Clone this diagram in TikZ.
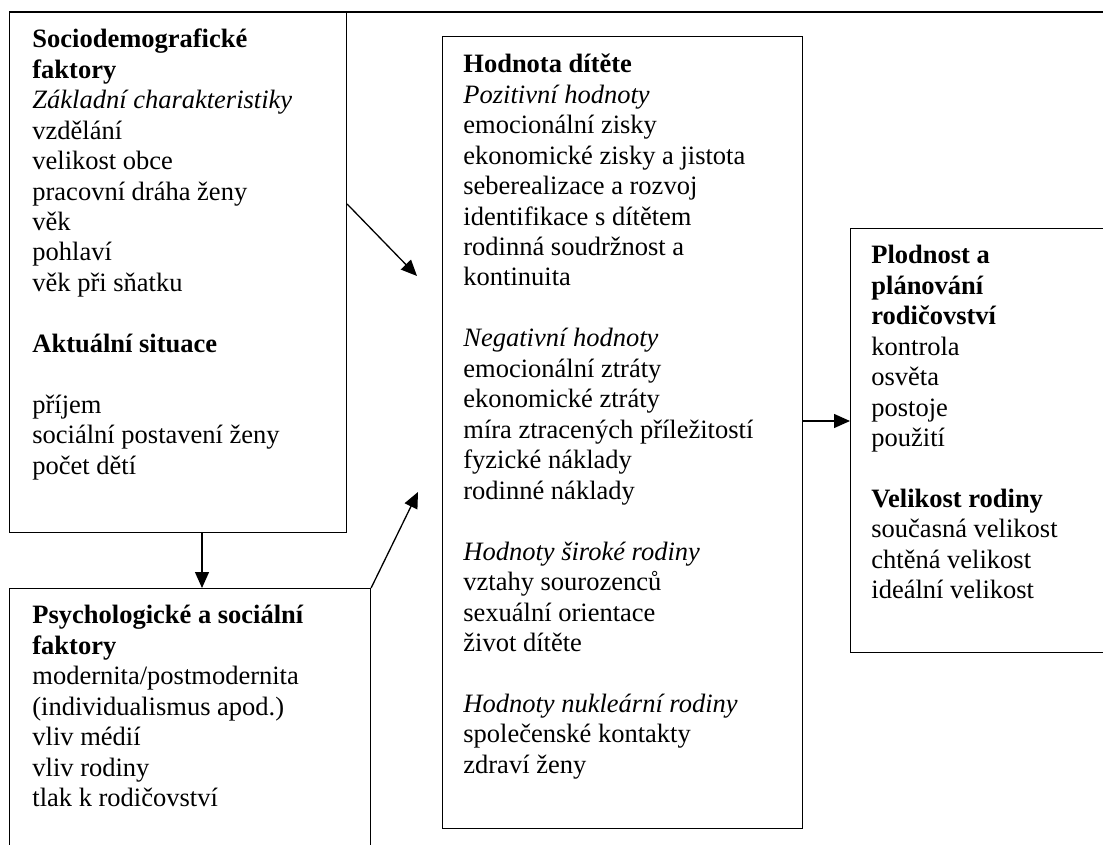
\documentclass[tikz,border=0pt]{standalone}
\usepackage{fontspec}
\setmainfont{Liberation Serif}
\usetikzlibrary{arrows.meta,calc}

\tikzset{
  panel/.style={draw, line width=0.55pt, anchor=north west, inner sep=0pt},
  txt/.style={anchor=north west, inner sep=0pt, align=left,
    font=\fontsize{13.25}{15.23}\selectfont},
  arr/.style={line width=0.65pt, -{Triangle[length=8pt,width=7pt]}}
}

\begin{document}
\begin{tikzpicture}[x=0.5pt,y=-0.5pt]
\useasboundingbox (0,0) rectangle (1103,845);
\clip (0,0) rectangle (1103,845);

\node[panel, minimum width=168.5pt, minimum height=260pt] (Socio) at (9,12) {};
\node[panel, minimum width=180.5pt, minimum height=140pt] (Psych) at (9,588) {};
\node[panel, minimum width=180pt, minimum height=396pt] (Hodnota) at (442,36) {};
\node[panel, minimum width=140pt, minimum height=212pt] (Plodnost) at (850,228) {};

\node[txt] (SocioText) at ($(Socio.north west)+(23,14)$) {\strut\textbf{Sociodemografické}\\
\textbf{faktory}\\
\textit{Základní charakteristiky}\\
vzdělání\\
velikost obce\\
pracovní dráha ženy\\
věk\\
pohlaví\\
věk při sňatku\\[15.23pt]
\textbf{Aktuální situace}\\[15.23pt]
příjem\\
sociální postavení ženy\\
počet dětí};

\node[txt] (PsychText) at ($(Psych.north west)+(23,14)$) {\strut\textbf{Psychologické a sociální}\\
\textbf{faktory}\\
modernita/postmodernita\\
(individualismus apod.)\\
vliv médií\\
vliv rodiny\\
tlak k rodičovství};

\node[txt] (HodnotaText) at ($(Hodnota.north west)+(21,15)$) {\strut\textbf{Hodnota dítěte}\\
\textit{Pozitivní hodnoty}\\
emocionální zisky\\
ekonomické zisky a jistota\\
seberealizace a rozvoj\\
identifikace s dítětem\\
rodinná soudržnost a\\
kontinuita\\[15.23pt]
\textit{Negativní hodnoty}\\
emocionální ztráty\\
ekonomické ztráty\\
míra ztracených příležitostí\\
fyzické náklady\\
rodinné náklady\\[15.23pt]
\textit{Hodnoty široké rodiny}\\
vztahy sourozenců\\
sexuální orientace\\
život dítěte\\[15.23pt]
\textit{Hodnoty nukleární rodiny}\\
společenské kontakty\\
zdraví ženy};

\node[txt] (PlodnostText) at ($(Plodnost.north west)+(21,14)$) {\strut\textbf{Plodnost a}\\
\textbf{plánování}\\
\textbf{rodičovství}\\
kontrola\\
osvěta\\
postoje\\
použití\\[15.23pt]
\textbf{Velikost rodiny}\\
současná velikost\\
chtěná velikost\\
ideální velikost};

\coordinate (RightEdge) at (1103,12);
\coordinate (TipA) at (417,276);
\coordinate (TipB) at (418,492);
\draw[line width=0.55pt] (Socio.north west) -- (RightEdge);

\draw[arr] (Socio.north east |- 0,204) -- (TipA);
\draw[arr] (Socio.south -| 202,0) -- (Psych.north -| 202,0);
\draw[arr] (Psych.north east) -- (TipB);
\draw[arr] (Hodnota.east |- 0,421) -- (Plodnost.west |- 0,421);
\end{tikzpicture}
\end{document}
